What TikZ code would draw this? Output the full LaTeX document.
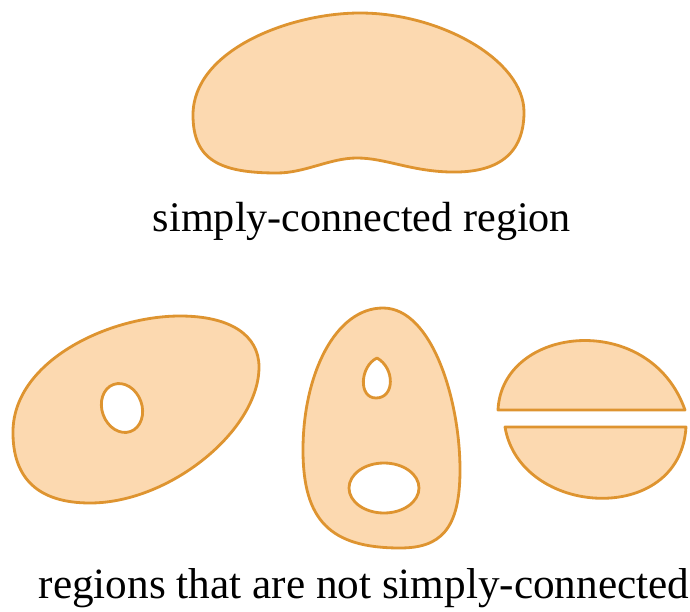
\documentclass[tikz,border=0pt]{standalone}
\usepackage{fontspec}
\setmainfont{Liberation Serif}
\usepackage{tikz}
\definecolor{regfill}{RGB}{252,217,176}
\definecolor{regline}{RGB}{222,148,48}

\begin{document}
\begin{tikzpicture}[x=0.02cm,y=-0.02cm,line join=round,
  region/.style={fill=regfill,draw=regline,line width=1.6pt},
  hole/.style={fill=white,draw=regline,line width=1.6pt},
  caption/.style={anchor=base,font=\fontsize{24}{29}\selectfont}]
\useasboundingbox (0,0) rectangle (690,612);
\draw[region] (193,115) .. controls (193,50) and (290,13) .. (360,13)
  .. controls (440,13) and (524,60) .. (524,112)
  .. controls (524,160) and (490,173) .. (450,172)
  .. controls (410,171) and (385,158) .. (357,158)
  .. controls (330,158) and (305,173) .. (277,173)
  .. controls (220,173) and (193,160) .. cycle;
\node[caption] (top) at (362,231) {simply-connected region};
\draw[region] (13,430) .. controls (15,360) and (110,316) .. (180,316)
  .. controls (230,316) and (259,335) .. (259,367)
  .. controls (259,430) and (170,503) .. (90,503)
  .. controls (40,503) and (12,480) .. cycle;
\draw[hole,rotate around={20:(122,408)}] (122,408) ellipse [x radius=20,y radius=25];
\draw[region] (383,308) .. controls (432,308) and (460,400) .. (460,470)
  .. controls (460,530) and (440,548) .. (400,548)
  .. controls (330,548) and (303,520) .. (303,450)
  .. controls (303,375) and (335,308) .. cycle;
\draw[hole] (377,358) .. controls (395,368) and (395,398) .. (376,398) .. controls (358,398) and (360,366) .. cycle;
\draw[hole] (384,488) ellipse [x radius=35,y radius=25];
\draw[region] (498,410) .. controls (502,325) and (650,310) .. (685,410) -- cycle;
\draw[region] (686,427) .. controls (680,527) and (520,517) .. (505,427) -- cycle;
\node[caption,font=\fontsize{24.6}{29}\selectfont] (bottom) at (364,598) {regions that are not simply-connected};
\end{tikzpicture}
\end{document}
